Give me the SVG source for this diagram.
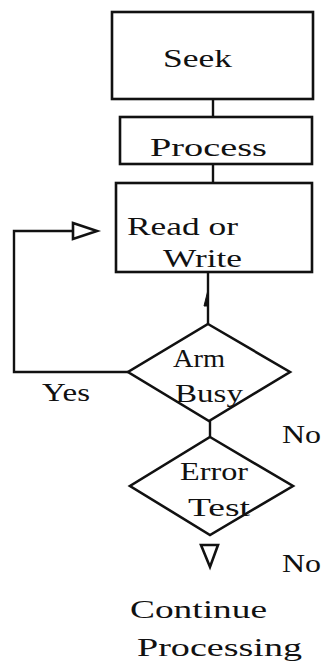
<svg xmlns="http://www.w3.org/2000/svg" width="324" height="664" viewBox="0 0 324 664">
<style>
.shape{fill:none;stroke:#111;stroke-width:2.6;stroke-linejoin:miter}
.line{fill:none;stroke:#111;stroke-width:2.4}
.t{font-family:"Liberation Serif","Times New Roman",serif;font-size:26px;fill:#111}
</style>
<rect width="324" height="664" fill="#fff"/>
<g id="connectors">
<line class="line" x1="213" y1="99" x2="213" y2="117"/>
<line class="line" x1="213" y1="164" x2="213" y2="183"/>
<line class="line" x1="208" y1="272" x2="208" y2="324"/>
<path d="M208,290 L204,306 L208,306 Z" fill="#111" stroke="#111" stroke-width="1"/>
<polyline class="line" points="128,372 14,372 14,231 73,231"/>
<polygon class="shape" points="73,223 97,231 73,239"/>
<line class="line" x1="210" y1="421" x2="210" y2="437"/>
<polygon class="shape" points="201,545 218,545 210,567"/>
</g>
<g id="seek">
<rect class="shape" x="112" y="12" width="201" height="87"/>
<text class="t" x="163" y="67" textLength="69" lengthAdjust="spacingAndGlyphs">Seek</text>
</g>
<g id="process">
<rect class="shape" x="120" y="117" width="192" height="47"/>
<text class="t" x="150" y="156" textLength="117" lengthAdjust="spacingAndGlyphs">Process</text>
</g>
<g id="readwrite">
<rect class="shape" x="116" y="183" width="196" height="89"/>
<text class="t" x="127" y="235" textLength="111" lengthAdjust="spacingAndGlyphs">Read or</text>
<text class="t" x="163" y="267" textLength="79" lengthAdjust="spacingAndGlyphs">Write</text>
</g>
<g id="armbusy">
<polygon class="shape" points="208,324 290,372 209,421 128,372"/>
<text class="t" x="173" y="367" textLength="52" lengthAdjust="spacingAndGlyphs">Arm</text>
<text class="t" x="175" y="402" textLength="68" lengthAdjust="spacingAndGlyphs">Busy</text>
</g>
<g id="yes-label">
<text class="t" x="42" y="401" textLength="48" lengthAdjust="spacingAndGlyphs">Yes</text>
</g>
<g id="no-label-1">
<text class="t" x="282" y="443" textLength="39" lengthAdjust="spacingAndGlyphs">No</text>
</g>
<g id="errortest">
<polygon class="shape" points="210,437 293,486 210,535 130,486"/>
<text class="t" x="180" y="480" textLength="68" lengthAdjust="spacingAndGlyphs">Error</text>
<text class="t" x="188" y="516" textLength="62" lengthAdjust="spacingAndGlyphs">Test</text>
</g>
<g id="no-label-2">
<text class="t" x="282" y="572" textLength="39" lengthAdjust="spacingAndGlyphs">No</text>
</g>
<g id="continue">
<text class="t" x="130" y="618" textLength="137" lengthAdjust="spacingAndGlyphs">Continue</text>
<text class="t" x="137" y="656" textLength="165" lengthAdjust="spacingAndGlyphs">Processing</text>
</g>
</svg>
